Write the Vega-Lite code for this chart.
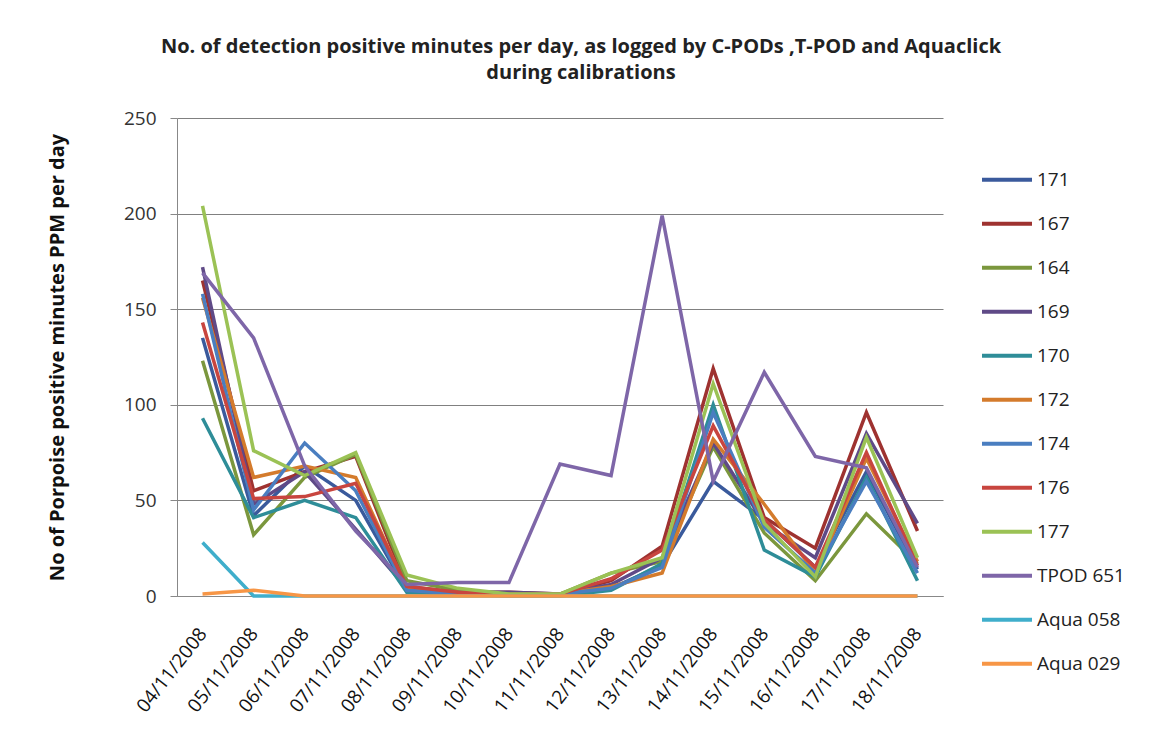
{
  "$schema": "https://vega.github.io/schema/vega-lite/v6.json",
  "width": 766,
  "height": 478,
  "autosize": {"type": "none"},
  "padding": {"left": 177, "top": 118, "right": 210, "bottom": 148},
  "background": "white",
  "title": {
    "text": ["No. of detection positive minutes per day, as logged by C-PODs ,T-POD and Aquaclick", "during calibrations"],
    "font": "Open Sans",
    "fontSize": 20,
    "fontWeight": "bold",
    "color": "#222222",
    "anchor": "middle",
    "dx": 21,
    "offset": 26,
    "lineHeight": 26
  },
  "data": {
    "values": [
      {"date": "04/11/2008", "series": "171", "value": 135},
      {"date": "05/11/2008", "series": "171", "value": 42},
      {"date": "06/11/2008", "series": "171", "value": 68},
      {"date": "07/11/2008", "series": "171", "value": 50},
      {"date": "08/11/2008", "series": "171", "value": 3},
      {"date": "09/11/2008", "series": "171", "value": 2},
      {"date": "10/11/2008", "series": "171", "value": 1},
      {"date": "11/11/2008", "series": "171", "value": 1},
      {"date": "12/11/2008", "series": "171", "value": 4},
      {"date": "13/11/2008", "series": "171", "value": 16},
      {"date": "14/11/2008", "series": "171", "value": 60},
      {"date": "15/11/2008", "series": "171", "value": 40},
      {"date": "16/11/2008", "series": "171", "value": 15},
      {"date": "17/11/2008", "series": "171", "value": 65},
      {"date": "18/11/2008", "series": "171", "value": 14},

      {"date": "04/11/2008", "series": "167", "value": 165},
      {"date": "05/11/2008", "series": "167", "value": 55},
      {"date": "06/11/2008", "series": "167", "value": 65},
      {"date": "07/11/2008", "series": "167", "value": 73},
      {"date": "08/11/2008", "series": "167", "value": 5},
      {"date": "09/11/2008", "series": "167", "value": 2},
      {"date": "10/11/2008", "series": "167", "value": 2},
      {"date": "11/11/2008", "series": "167", "value": 1},
      {"date": "12/11/2008", "series": "167", "value": 8},
      {"date": "13/11/2008", "series": "167", "value": 26},
      {"date": "14/11/2008", "series": "167", "value": 119},
      {"date": "15/11/2008", "series": "167", "value": 41},
      {"date": "16/11/2008", "series": "167", "value": 25},
      {"date": "17/11/2008", "series": "167", "value": 96},
      {"date": "18/11/2008", "series": "167", "value": 34},

      {"date": "04/11/2008", "series": "164", "value": 123},
      {"date": "05/11/2008", "series": "164", "value": 32},
      {"date": "06/11/2008", "series": "164", "value": 62},
      {"date": "07/11/2008", "series": "164", "value": 74},
      {"date": "08/11/2008", "series": "164", "value": 8},
      {"date": "09/11/2008", "series": "164", "value": 3},
      {"date": "10/11/2008", "series": "164", "value": 1},
      {"date": "11/11/2008", "series": "164", "value": 1},
      {"date": "12/11/2008", "series": "164", "value": 12},
      {"date": "13/11/2008", "series": "164", "value": 18},
      {"date": "14/11/2008", "series": "164", "value": 78},
      {"date": "15/11/2008", "series": "164", "value": 33},
      {"date": "16/11/2008", "series": "164", "value": 8},
      {"date": "17/11/2008", "series": "164", "value": 43},
      {"date": "18/11/2008", "series": "164", "value": 17},

      {"date": "04/11/2008", "series": "169", "value": 172},
      {"date": "05/11/2008", "series": "169", "value": 48},
      {"date": "06/11/2008", "series": "169", "value": 65},
      {"date": "07/11/2008", "series": "169", "value": 35},
      {"date": "08/11/2008", "series": "169", "value": 4},
      {"date": "09/11/2008", "series": "169", "value": 2},
      {"date": "10/11/2008", "series": "169", "value": 2},
      {"date": "11/11/2008", "series": "169", "value": 1},
      {"date": "12/11/2008", "series": "169", "value": 6},
      {"date": "13/11/2008", "series": "169", "value": 20},
      {"date": "14/11/2008", "series": "169", "value": 80},
      {"date": "15/11/2008", "series": "169", "value": 38},
      {"date": "16/11/2008", "series": "169", "value": 20},
      {"date": "17/11/2008", "series": "169", "value": 85},
      {"date": "18/11/2008", "series": "169", "value": 38},

      {"date": "04/11/2008", "series": "170", "value": 93},
      {"date": "05/11/2008", "series": "170", "value": 41},
      {"date": "06/11/2008", "series": "170", "value": 50},
      {"date": "07/11/2008", "series": "170", "value": 41},
      {"date": "08/11/2008", "series": "170", "value": 2},
      {"date": "09/11/2008", "series": "170", "value": 1},
      {"date": "10/11/2008", "series": "170", "value": 0},
      {"date": "11/11/2008", "series": "170", "value": 0},
      {"date": "12/11/2008", "series": "170", "value": 3},
      {"date": "13/11/2008", "series": "170", "value": 17},
      {"date": "14/11/2008", "series": "170", "value": 100},
      {"date": "15/11/2008", "series": "170", "value": 24},
      {"date": "16/11/2008", "series": "170", "value": 10},
      {"date": "17/11/2008", "series": "170", "value": 62},
      {"date": "18/11/2008", "series": "170", "value": 8},

      {"date": "04/11/2008", "series": "172", "value": 156},
      {"date": "05/11/2008", "series": "172", "value": 62},
      {"date": "06/11/2008", "series": "172", "value": 68},
      {"date": "07/11/2008", "series": "172", "value": 62},
      {"date": "08/11/2008", "series": "172", "value": 4},
      {"date": "09/11/2008", "series": "172", "value": 2},
      {"date": "10/11/2008", "series": "172", "value": 1},
      {"date": "11/11/2008", "series": "172", "value": 1},
      {"date": "12/11/2008", "series": "172", "value": 5},
      {"date": "13/11/2008", "series": "172", "value": 12},
      {"date": "14/11/2008", "series": "172", "value": 82},
      {"date": "15/11/2008", "series": "172", "value": 48},
      {"date": "16/11/2008", "series": "172", "value": 12},
      {"date": "17/11/2008", "series": "172", "value": 72},
      {"date": "18/11/2008", "series": "172", "value": 18},

      {"date": "04/11/2008", "series": "174", "value": 158},
      {"date": "05/11/2008", "series": "174", "value": 45},
      {"date": "06/11/2008", "series": "174", "value": 80},
      {"date": "07/11/2008", "series": "174", "value": 55},
      {"date": "08/11/2008", "series": "174", "value": 3},
      {"date": "09/11/2008", "series": "174", "value": 1},
      {"date": "10/11/2008", "series": "174", "value": 1},
      {"date": "11/11/2008", "series": "174", "value": 1},
      {"date": "12/11/2008", "series": "174", "value": 4},
      {"date": "13/11/2008", "series": "174", "value": 15},
      {"date": "14/11/2008", "series": "174", "value": 96},
      {"date": "15/11/2008", "series": "174", "value": 36},
      {"date": "16/11/2008", "series": "174", "value": 12},
      {"date": "17/11/2008", "series": "174", "value": 60},
      {"date": "18/11/2008", "series": "174", "value": 12},

      {"date": "04/11/2008", "series": "176", "value": 143},
      {"date": "05/11/2008", "series": "176", "value": 51},
      {"date": "06/11/2008", "series": "176", "value": 52},
      {"date": "07/11/2008", "series": "176", "value": 59},
      {"date": "08/11/2008", "series": "176", "value": 5},
      {"date": "09/11/2008", "series": "176", "value": 2},
      {"date": "10/11/2008", "series": "176", "value": 1},
      {"date": "11/11/2008", "series": "176", "value": 1},
      {"date": "12/11/2008", "series": "176", "value": 9},
      {"date": "13/11/2008", "series": "176", "value": 24},
      {"date": "14/11/2008", "series": "176", "value": 89},
      {"date": "15/11/2008", "series": "176", "value": 40},
      {"date": "16/11/2008", "series": "176", "value": 15},
      {"date": "17/11/2008", "series": "176", "value": 75},
      {"date": "18/11/2008", "series": "176", "value": 16},

      {"date": "04/11/2008", "series": "177", "value": 204},
      {"date": "05/11/2008", "series": "177", "value": 76},
      {"date": "06/11/2008", "series": "177", "value": 63},
      {"date": "07/11/2008", "series": "177", "value": 75},
      {"date": "08/11/2008", "series": "177", "value": 11},
      {"date": "09/11/2008", "series": "177", "value": 4},
      {"date": "10/11/2008", "series": "177", "value": 1},
      {"date": "11/11/2008", "series": "177", "value": 1},
      {"date": "12/11/2008", "series": "177", "value": 12},
      {"date": "13/11/2008", "series": "177", "value": 20},
      {"date": "14/11/2008", "series": "177", "value": 111},
      {"date": "15/11/2008", "series": "177", "value": 38},
      {"date": "16/11/2008", "series": "177", "value": 10},
      {"date": "17/11/2008", "series": "177", "value": 83},
      {"date": "18/11/2008", "series": "177", "value": 20},

      {"date": "04/11/2008", "series": "TPOD 651", "value": 169},
      {"date": "05/11/2008", "series": "TPOD 651", "value": 135},
      {"date": "06/11/2008", "series": "TPOD 651", "value": 68},
      {"date": "07/11/2008", "series": "TPOD 651", "value": 34},
      {"date": "08/11/2008", "series": "TPOD 651", "value": 6},
      {"date": "09/11/2008", "series": "TPOD 651", "value": 7},
      {"date": "10/11/2008", "series": "TPOD 651", "value": 7},
      {"date": "11/11/2008", "series": "TPOD 651", "value": 69},
      {"date": "12/11/2008", "series": "TPOD 651", "value": 63},
      {"date": "13/11/2008", "series": "TPOD 651", "value": 199},
      {"date": "14/11/2008", "series": "TPOD 651", "value": 60},
      {"date": "15/11/2008", "series": "TPOD 651", "value": 117},
      {"date": "16/11/2008", "series": "TPOD 651", "value": 73},
      {"date": "17/11/2008", "series": "TPOD 651", "value": 67},
      {"date": "18/11/2008", "series": "TPOD 651", "value": 15},

      {"date": "04/11/2008", "series": "Aqua 058", "value": 28},
      {"date": "05/11/2008", "series": "Aqua 058", "value": 0},
      {"date": "06/11/2008", "series": "Aqua 058", "value": 0},
      {"date": "07/11/2008", "series": "Aqua 058", "value": 0},
      {"date": "08/11/2008", "series": "Aqua 058", "value": 0},
      {"date": "09/11/2008", "series": "Aqua 058", "value": 0},
      {"date": "10/11/2008", "series": "Aqua 058", "value": 0},
      {"date": "11/11/2008", "series": "Aqua 058", "value": 0},
      {"date": "12/11/2008", "series": "Aqua 058", "value": 0},
      {"date": "13/11/2008", "series": "Aqua 058", "value": 0},
      {"date": "14/11/2008", "series": "Aqua 058", "value": 0},
      {"date": "15/11/2008", "series": "Aqua 058", "value": 0},
      {"date": "16/11/2008", "series": "Aqua 058", "value": 0},
      {"date": "17/11/2008", "series": "Aqua 058", "value": 0},
      {"date": "18/11/2008", "series": "Aqua 058", "value": 0},

      {"date": "04/11/2008", "series": "Aqua 029", "value": 1},
      {"date": "05/11/2008", "series": "Aqua 029", "value": 3},
      {"date": "06/11/2008", "series": "Aqua 029", "value": 0},
      {"date": "07/11/2008", "series": "Aqua 029", "value": 0},
      {"date": "08/11/2008", "series": "Aqua 029", "value": 0},
      {"date": "09/11/2008", "series": "Aqua 029", "value": 0},
      {"date": "10/11/2008", "series": "Aqua 029", "value": 0},
      {"date": "11/11/2008", "series": "Aqua 029", "value": 0},
      {"date": "12/11/2008", "series": "Aqua 029", "value": 0},
      {"date": "13/11/2008", "series": "Aqua 029", "value": 0},
      {"date": "14/11/2008", "series": "Aqua 029", "value": 0},
      {"date": "15/11/2008", "series": "Aqua 029", "value": 0},
      {"date": "16/11/2008", "series": "Aqua 029", "value": 0},
      {"date": "17/11/2008", "series": "Aqua 029", "value": 0},
      {"date": "18/11/2008", "series": "Aqua 029", "value": 0}
    ]
  },
  "mark": {"type": "line", "strokeWidth": 3.5, "strokeJoin": "miter"},
  "encoding": {
    "x": {
      "field": "date",
      "type": "nominal",
      "sort": null,
      "scale": {"type": "point", "padding": 0.5},
      "axis": {
        "title": null,
        "labelAngle": -52,
        "labelAlign": "right",
        "labelBaseline": "middle",
        "labelFont": "Open Sans",
        "labelFontSize": 19,
        "labelColor": "#111111",
        "labelPadding": 34,
        "ticks": false,
        "domainColor": "#888888",
        "grid": false
      }
    },
    "y": {
      "field": "value",
      "type": "quantitative",
      "scale": {"domain": [0, 250], "nice": false},
      "axis": {
        "values": [0, 50, 100, 150, 200, 250],
        "title": "No of Porpoise positive  minutes PPM per day",
        "titleFont": "Open Sans",
        "titleFontSize": 20,
        "titleFontWeight": "bold",
        "titleColor": "#111111",
        "titlePadding": 56,
        "labelFont": "Open Sans",
        "labelFontSize": 19,
        "labelColor": "#333333",
        "labelPadding": 14,
        "tickSize": 7,
        "tickColor": "#888888",
        "domainColor": "#888888",
        "grid": true,
        "gridColor": "#808080",
        "gridWidth": 1
      }
    },
    "color": {
      "field": "series",
      "type": "nominal",
      "sort": null,
      "scale": {
        "domain": ["171", "167", "164", "169", "170", "172", "174", "176", "177", "TPOD 651", "Aqua 058", "Aqua 029"],
        "range": ["#3A5A9C", "#9E3230", "#7B973D", "#5F4A87", "#2E8D98", "#D47B2C", "#4A7EC0", "#C8453F", "#9BC255", "#7E66A8", "#3FAECB", "#F79646"]
      },
      "legend": {
        "title": null,
        "orient": "none",
        "legendX": 803,
        "legendY": 40,
        "symbolType": "stroke",
        "symbolSize": 2500,
        "symbolStrokeWidth": 4,
        "clipHeight": 43.7,
        "rowPadding": 0,
        "labelFont": "Open Sans",
        "labelFontSize": 19,
        "labelColor": "#222222",
        "labelOffset": 3,
        "padding": 0
      }
    }
  },
  "config": {
    "view": {"stroke": null}
  }
}
